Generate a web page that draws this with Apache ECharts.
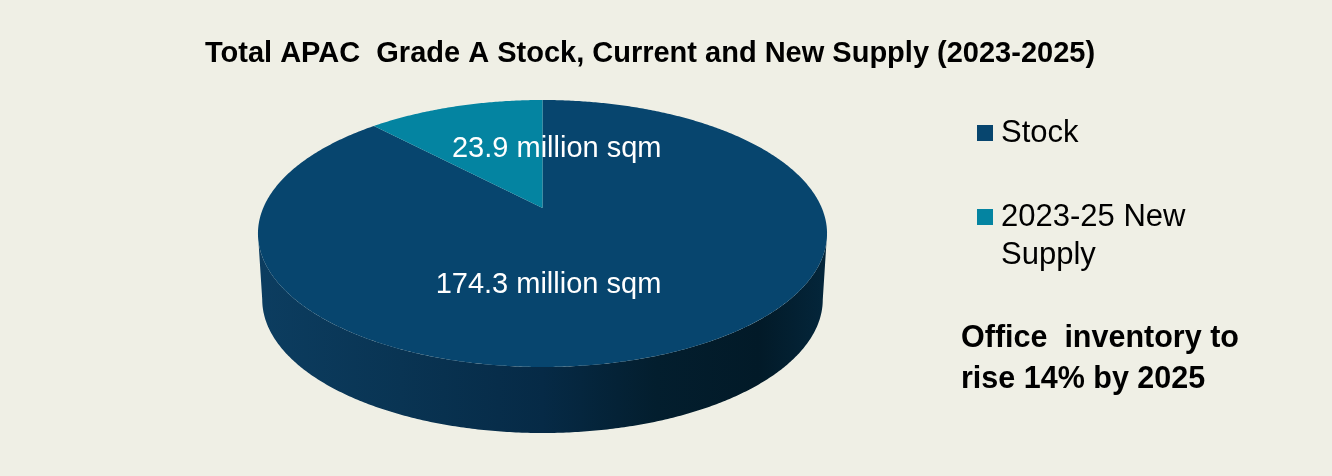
<!DOCTYPE html>
<html>
<head>
<meta charset="utf-8">
<script src="https://cdn.jsdelivr.net/npm/echarts@6/dist/echarts.min.js"></script>
<style>
  html, body { margin: 0; padding: 0; background: #efefe5; }
  #chart { width: 1332px; height: 476px; }
</style>
</head>
<body>
<div id="chart"></div>
<script>
// Slices, in clockwise order starting at twelve o'clock
const categories = ['Stock', '2023-25 New Supply'];
const values = [174.3, 23.9];
const sliceLabels = ['174.3 million sqm', '23.9 million sqm'];
const titleText = 'Total APAC  Grade A Stock, Current and New Supply (2023-2025)';
const noteText = 'Office  inventory to\nrise 14% by 2025';

const total = values.reduce((a, b) => a + b, 0);
const starts = [];
values.reduce((acc, v) => { starts.push(acc); return acc + v; }, 0);

// Tilted-disc geometry: centre, radius, perspective and wall depth
const PIE = { cx: 542.5, cy: 208, R: 279.3, q: -88.9, k: 0.191, depth: 66, baseScale: 0.985 };

function project(theta, r, bottom) {
  const u = r * Math.sin(theta), w = r * Math.cos(theta);
  const d = 1 + PIE.k * w;
  let x = PIE.R * u / d;
  let y = (PIE.cy + PIE.q * w) / d;
  if (bottom) { x *= PIE.baseScale; y += PIE.depth; }
  return [PIE.cx + x, y];
}

function arc(a0, a1, bottom) {
  const n = Math.max(2, Math.ceil(Math.abs(a1 - a0) / (Math.PI / 360)));
  const pts = [];
  for (let i = 0; i <= n; i++) pts.push(project(a0 + (a1 - a0) * i / n, 1, bottom));
  return pts;
}

const sideGradient = new echarts.graphic.LinearGradient(258, 0, 827, 0, [
  { offset: 0, color: '#0c3d60' },
  { offset: 0.25, color: '#093453' },
  { offset: 0.5, color: '#062a46' },
  { offset: 0.7, color: '#031e2e' },
  { offset: 0.88, color: '#021a28' },
  { offset: 1, color: '#04263b' }
], true);

const colors = ['#07456e', '#0484a1'];
const labelOffsets = [[-57, 4], [66, 1]];

function renderSlice(index) {
  return function (params, api) {
    const start = api.value(0), val = api.value(1);
    const a0 = start / total * Math.PI * 2;
    const a1 = (start + val) / total * Math.PI * 2;
    const children = [];

    // front wall: only the part facing the viewer
    const vis0 = Math.acos(-PIE.k), vis1 = Math.PI * 2 - vis0;
    const s0 = Math.max(a0, vis0), s1 = Math.min(a1, vis1);
    if (s1 > s0) {
      const pts = arc(s0, s1, false).concat(arc(s0, s1, true).reverse());
      children.push({
        type: 'polygon', z2: 1,
        shape: { points: pts },
        style: { fill: sideGradient }
      });
    }

    // top face
    const top = [project(0, 0, false)].concat(arc(a0, a1, false));
    children.push({
      type: 'polygon', z2: 5,
      shape: { points: top },
      style: { fill: api.visual('color') }
    });

    // value label
    const mid = (a0 + a1) / 2;
    const p = project(mid, 0.55, false);
    const off = labelOffsets[index];
    children.push({
      type: 'text', z2: 10,
      style: {
        text: sliceLabels[index],
        x: p[0] + off[0], y: p[1] + off[1],
        fill: '#ffffff',
        font: '29px "Liberation Sans", Arial, sans-serif',
        align: 'center', verticalAlign: 'middle'
      }
    });
    return { type: 'group', children: children };
  };
}

const chart = echarts.init(document.getElementById('chart'), null, { renderer: 'canvas' });

const legendText = {
  fontFamily: '"Liberation Sans", Arial, sans-serif',
  fontSize: 31, lineHeight: 38, color: '#000000', padding: [0, 0, 0, 3]
};

chart.setOption({
  backgroundColor: '#efefe5',
  animation: false,
  title: [
    {
      text: titleText,
      left: 200, top: 32,
      textStyle: {
        fontFamily: '"Liberation Sans", Arial, sans-serif',
        fontWeight: 'bold', fontSize: 29, lineHeight: 34, color: '#000000'
      }
    },
    {
      text: noteText,
      left: 956, top: 313,
      textStyle: {
        fontFamily: '"Liberation Sans", Arial, sans-serif',
        fontWeight: 'bold', fontSize: 30.5, lineHeight: 41, color: '#000000'
      }
    }
  ],
  legend: [
    {
      data: [categories[0]],
      orient: 'vertical', left: 972, top: 109,
      icon: 'rect', itemWidth: 16, itemHeight: 16,
      selectedMode: false,
      textStyle: legendText
    },
    {
      data: [categories[1]],
      orient: 'vertical', left: 972, top: 155,
      icon: 'rect', itemWidth: 16, itemHeight: 16,
      selectedMode: false,
      formatter: () => '\n2023-25 New\nSupply',
      textStyle: legendText
    }
  ],
  series: categories.map((name, i) => ({
    type: 'custom',
    name: name,
    coordinateSystem: 'none',
    itemStyle: { color: colors[i] },
    renderItem: renderSlice(i),
    data: [[starts[i], values[i]]]
  }))
});
</script>
</body>
</html>
